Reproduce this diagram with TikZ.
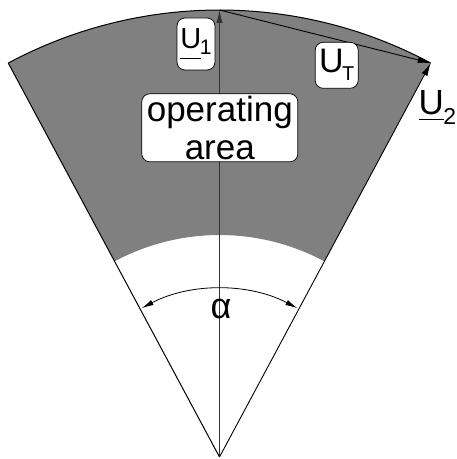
\documentclass[tikz,border=0pt]{standalone}
\usepackage{fontspec}
\setmainfont{Liberation Sans}
\usetikzlibrary{arrows.meta,calc}
\newcommand\ulU[1]{\setbox0\hbox{U}\rlap{\rule[-#1]{\wd0}{0.9pt}}U}
\begin{document}
\begin{tikzpicture}[x=1pt,y=1pt,
  vec/.style={line width=0.9pt,-{Latex[length=13pt,width=6.5pt]}},
  edge/.style={line width=1pt},
  lbox/.style={draw=black,line width=0.7pt,fill=white,rounded corners=8pt,inner sep=0pt,align=center},
  dimarrow/.style={line width=0.8pt,{Latex[length=12pt,width=5.5pt]}-{Latex[length=12pt,width=5.5pt]}}]
\useasboundingbox (0,0) rectangle (457,459);
\def\R{447}\def\Ri{222}\def\ha{28.2}
\coordinate (O) at (219.5,2);
\coordinate (T) at ($(O)+(90:\R)$);
\coordinate (L) at ($(O)+(90+\ha:\R)$);
\coordinate (Rc) at ($(O)+(90-\ha:\R)$);
% operating area
\fill[gray] (Rc) arc[start angle=90-\ha,end angle=90+\ha,radius=\R]
  -- ($(O)+(90+\ha:\Ri)$) arc[start angle=90+\ha,end angle=90-\ha,radius=\Ri] -- cycle;
\draw[edge] (Rc) arc[start angle=90-\ha,end angle=90+\ha,radius=\R];
\draw[edge] (O) -- (L);
% vectors
\draw[vec,draw=black!80] (O) -- (T);
\draw[vec] (T) -- (Rc);
\draw[vec] (O) -- (Rc);
% angle alpha
\coordinate (A1) at ($(O)+(90+27.6:168)$);
\draw[dimarrow] (A1) arc[start angle=90+27.6,end angle=90-27.6,radius=168] coordinate (A2);
\node (alpha) at (221,150) {\fontsize{36}{36}\selectfont α};
% labels
\node[lbox,minimum width=156pt,minimum height=68pt,font=\fontsize{35}{38}\selectfont] (op) at (219.8,331.2)
  {operating\\area};
\node[lbox,minimum width=38pt,minimum height=52pt] (u1) at (196,415)
  {\fontsize{29}{29}\selectfont\ulU{10pt}\kern-1.5pt\raisebox{-6pt}{\fontsize{21}{21}\selectfont 1}};
\node[lbox,minimum width=43pt,minimum height=46pt] (ut) at (336.7,393.7)
  {\fontsize{34}{34}\selectfont U\kern-1.5pt\raisebox{-8pt}{\fontsize{20}{20}\selectfont T}};
\node[inner sep=0pt,anchor=base west] (u2) at (418.5,344)
  {\fontsize{35}{35}\selectfont\ulU{5pt}\kern-0.5pt\raisebox{-10pt}{\fontsize{23}{23}\selectfont 2}};
\end{tikzpicture}
\end{document}
